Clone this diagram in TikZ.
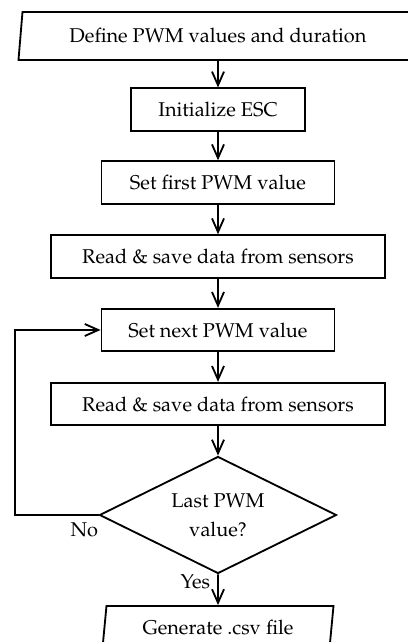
\documentclass[tikz,border=0pt]{standalone}
\usepackage[T1]{fontenc}
\usepackage{mathpazo}
\usetikzlibrary{shapes.geometric,arrows.meta,positioning}

\tikzset{
  proc/.style={draw, line width=1.3pt, minimum height=1.06cm, inner sep=0pt},
  io/.style={draw, line width=1.3pt, trapezium, trapezium left angle=75,
    trapezium right angle=105, trapezium stretches body, inner sep=0pt},
  decide/.style={draw, line width=1.3pt, diamond, aspect=2, inner sep=0pt, align=center},
  flow/.style={line width=1.3pt, -{Straight Barb[length=3.4mm,width=3mm]}}
}

\begin{document}
\begin{tikzpicture}[font=\fontsize{14.2}{20.6}\selectfont]
\useasboundingbox (0,0) rectangle (10.2,16.05);
\clip (0,0) rectangle (10.2,16.05);
\node[io, minimum width=9.975cm, minimum height=1.2cm] (define) at (5.45,15.15) {Define PWM values and duration};
\node[proc, minimum width=4.35cm] (init) at (5.45,13.31) {Initialize ESC};
\node[proc, minimum width=5.825cm] (first) at (5.45,11.49) {Set first PWM value};
\node[proc, minimum width=8.35cm] (read1) at (5.45,9.64) {Read \& save data from sensors};
\node[proc, minimum width=5.825cm] (next) at (5.45,7.8) {Set next PWM value};
\node[proc, minimum width=8.35cm] (read2) at (5.45,5.95) {Read \& save data from sensors};
\node[decide, minimum width=5.925cm, minimum height=2.925cm] (last) at (5.45,3.175) {Last PWM\\value?};
\node[io, minimum width=5.775cm, minimum height=1.05cm] (csv) at (5.45,0.375) {Generate .csv file};
\coordinate (back) at (0.375,3.175);

\draw[flow] (define) -- (init);
\draw[flow] (init) -- (first);
\draw[flow] (first) -- (read1);
\draw[flow] (read1) -- (next);
\draw[flow] (next) -- (read2);
\draw[flow] (read2) -- (last);
\draw[flow] (last.west) -- node[below, pos=0.17, inner sep=5pt] {No} (back) |- (next.west);
\draw[flow] (last) -- node[left, pos=0.25, inner sep=5pt] {Yes} (csv);
\end{tikzpicture}
\end{document}
